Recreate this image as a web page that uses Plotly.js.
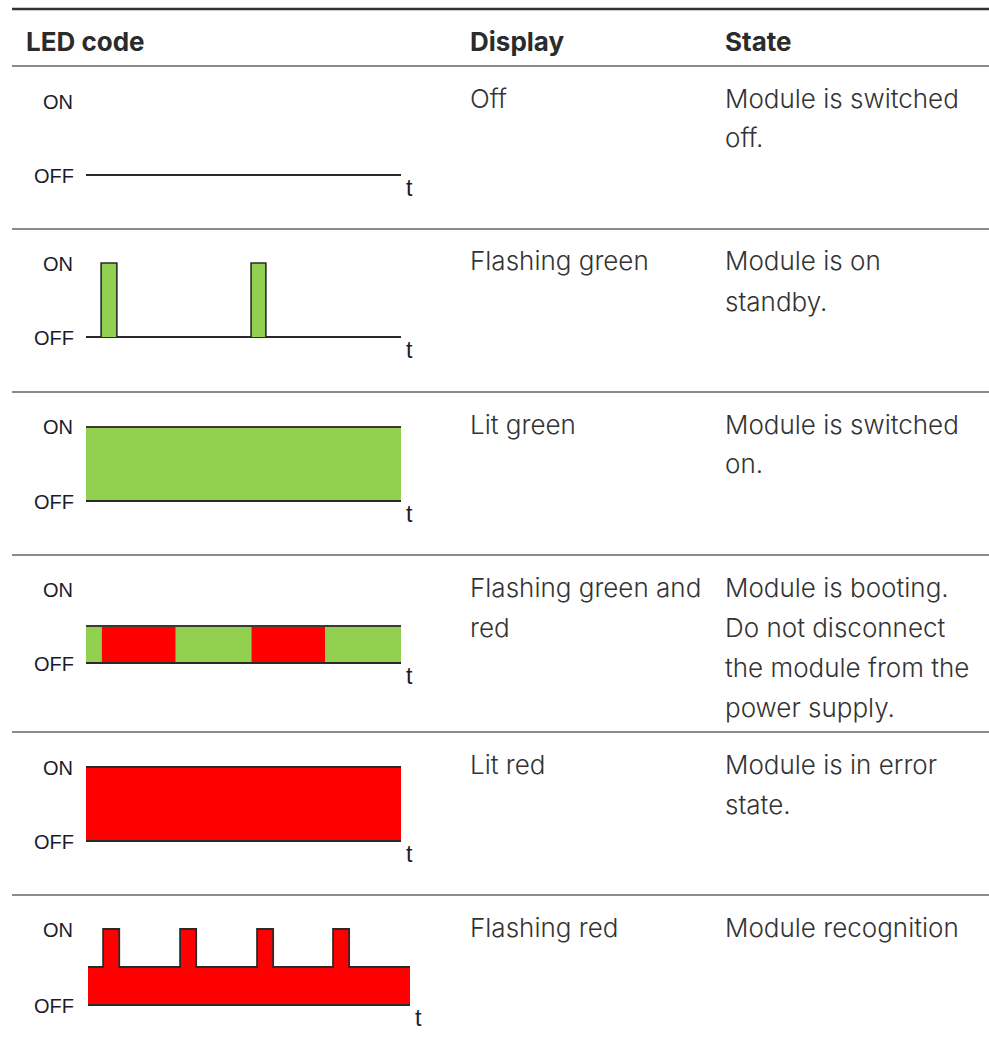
<!DOCTYPE html>
<html>
<head>
<meta charset="utf-8">
<script src="https://cdn.plot.ly/plotly-3.0.1.min.js"></script>
<style>html,body{margin:0;padding:0;background:#fff;}#chart{width:989px;height:1054px;}</style>
</head>
<body>
<div id="chart"></div>
<script>
// ---------- DATA ----------
const headers = ["LED code", "Display", "State"];
const displayText = [["Off"], ["Flashing green"], ["Lit green"], ["Flashing green and", "red"], ["Lit red"], ["Flashing red"]];
const stateText = [
  ["Module is switched", "off."],
  ["Module is on", "standby."],
  ["Module is switched", "on."],
  ["Module is booting.", "Do not disconnect", "the module from the", "power supply."],
  ["Module is in error", "state."],
  ["Module recognition"]
];
const levelLabels = ["OFF", "ON"];
const timeLabel = "t";

// signal time points (t) and levels (0 = OFF, 1 = ON)
const offT = [0, 10];
const offV = [0, 0];
const flashGreenT = [0, 0.48, 0.98, 5.24, 5.71, 10];
const flashGreenV = [0, 1, 0, 1, 0, 0];
const litGreenT = [0, 10];
const litGreenV = [1, 1];
const bootT = [0, 0.5, 2.85, 5.25, 7.6, 10];
const bootColors = ["green", "red", "green", "red", "green"];
const bootLevel = 0.5;
const litRedT = [0, 10];
const litRedV = [1, 1];
const flashRedT = [0, 0.47, 0.97, 2.86, 3.36, 5.25, 5.75, 7.61, 8.11, 10];
const flashRedV = [0.5, 1, 0.5, 1, 0.5, 1, 0.5, 1, 0.5, 0.5];

// ---------- STYLE / GEOMETRY ----------
const W = 989, H = 1054;
const COL = {green: "#92d050", red: "#ff0000"};
const OUT = "#2a2a2a";
const textColor = "#333333";
const labelColor = "#1b1b2b";
const FONT = "Inter, 'Noto Sans', sans-serif";
const rules = [66, 229, 392, 555, 732, 895];
const rowTop = [66, 229, 392, 555, 732, 895];
const geom = [
  {on: 101, off: 175, x0: 86, x1: 401},
  {on: 263, off: 337, x0: 86, x1: 401},
  {on: 427, off: 501, x0: 86, x1: 401},
  {on: 589, off: 663, x0: 86, x1: 401},
  {on: 767, off: 841, x0: 86, x1: 401},
  {on: 929, off: 1005, x0: 88, x1: 410}
];
const XR = [-0.3, 10.3], YR = [-0.15, 1.15];

function xDomain(g) {
  const k = (g.x1 - g.x0) / 10;
  return [(g.x0 + XR[0] * k) / W, (g.x0 + XR[1] * k) / W];
}
function yDomain(g) {
  const k = (g.on - g.off);
  const pLow = g.off + YR[0] * k, pHigh = g.off + YR[1] * k;
  return [1 - pLow / H, 1 - pHigh / H];
}

const traces = [];
const layout = {
  width: W, height: H,
  margin: {l: 0, r: 0, t: 0, b: 0},
  paper_bgcolor: "#ffffff", plot_bgcolor: "rgba(0,0,0,0)",
  showlegend: false,
  shapes: [], annotations: []
};

function ax(i) { return i === 0 ? "" : String(i + 1); }

geom.forEach((g, i) => {
  const a = ax(i);
  layout["xaxis" + a] = {domain: xDomain(g), range: XR, visible: false, fixedrange: true, anchor: "y" + a};
  layout["yaxis" + a] = {domain: yDomain(g), range: YR, visible: false, fixedrange: true, anchor: "x" + a};
});

function tr(i, o) {
  const a = ax(i);
  return Object.assign({type: "scatter", xaxis: "x" + a, yaxis: "y" + a, hoverinfo: "skip"}, o);
}
const baseLine = (i, T) => tr(i, {x: [T[0], T[T.length - 1]], y: [0, 0], mode: "lines", line: {color: OUT, width: 2}});

// Row 1: Off
traces.push(tr(0, {x: offT, y: offV, mode: "lines", line: {color: OUT, width: 2}}));
// Row 2: Flashing green
traces.push(baseLine(1, flashGreenT));
traces.push(tr(1, {x: flashGreenT, y: flashGreenV, mode: "lines", line: {color: OUT, width: 1.6, shape: "hv"}, fill: "tozeroy", fillcolor: COL.green}));
// Row 3: Lit green
traces.push(tr(2, {x: litGreenT, y: litGreenV, mode: "lines", line: {color: "#3a3a30", width: 2}, fill: "tozeroy", fillcolor: COL.green}));
traces.push(baseLine(2, litGreenT));
// Row 4: Flashing green and red
for (let s = 0; s < bootColors.length; s++) {
  traces.push(tr(3, {x: [bootT[s], bootT[s + 1]], y: [bootLevel, bootLevel], mode: "none", fill: "tozeroy", fillcolor: COL[bootColors[s]]}));
}
traces.push(tr(3, {x: [bootT[0], bootT[bootT.length - 1]], y: [bootLevel, bootLevel], mode: "lines", line: {color: "#3a3a30", width: 2}}));
traces.push(baseLine(3, bootT));
// Row 5: Lit red
traces.push(tr(4, {x: litRedT, y: litRedV, mode: "lines", line: {color: OUT, width: 2}, fill: "tozeroy", fillcolor: COL.red}));
traces.push(baseLine(4, litRedT));
// Row 6: Flashing red
traces.push(tr(5, {x: flashRedT, y: flashRedV, mode: "lines", line: {color: OUT, width: 1.8, shape: "hv"}, fill: "tozeroy", fillcolor: COL.red}));
traces.push(baseLine(5, flashRedT));

// ON / OFF / t labels
geom.forEach((g, i) => {
  const a = ax(i);
  const lf = {family: "'Liberation Sans', Arial, sans-serif", size: 20, color: labelColor};
  const tf = {family: "'Liberation Sans', Arial, sans-serif", size: 23, color: labelColor};
  layout.annotations.push({xref: "paper", yref: "paper", x: 75.5 / W, y: 1 - (g.off + 0.5) / H, text: levelLabels[0], showarrow: false, xanchor: "right", yanchor: "middle", font: lf});
  layout.annotations.push({xref: "paper", yref: "paper", x: 74.5 / W, y: 1 - (g.on + 0.5) / H, text: levelLabels[1], showarrow: false, xanchor: "right", yanchor: "middle", font: lf});
  layout.annotations.push({xref: "x" + a, yref: "y" + a, x: 10, y: 0, text: timeLabel, showarrow: false, xanchor: "left", yanchor: "middle", xshift: 3, yshift: -13, font: tf});
});

// table rules
layout.shapes.push({type: "line", xref: "paper", yref: "paper", x0: 12 / W, x1: 1, y0: 1 - 9 / H, y1: 1 - 9 / H, line: {color: "#333", width: 2.5}});
rules.forEach(r => layout.shapes.push({type: "line", xref: "paper", yref: "paper", x0: 12 / W, x1: 1, y0: 1 - r / H, y1: 1 - r / H, line: {color: "#666", width: 1.6}}));

// header text
const colX = [24, 468, 723];
headers.forEach((h, c) => layout.annotations.push({xref: "paper", yref: "paper", x: colX[c] / W, y: 1 - 41 / H, text: "<b>" + h + "</b>", showarrow: false, xanchor: "left", yanchor: "middle", font: {family: FONT, size: 26, color: "#2b2b2b"}}));

// body text
const LS = 40;
const bodyFont = {family: FONT, size: 26, color: textColor, weight: 300};
rowTop.forEach((rt, i) => {
  const y0 = rt + 32;
  displayText[i].forEach((line, k) => layout.annotations.push({xref: "paper", yref: "paper", x: colX[1] / W, y: 1 - (y0 + k * LS) / H, text: line, showarrow: false, xanchor: "left", yanchor: "middle", font: bodyFont}));
  stateText[i].forEach((line, k) => layout.annotations.push({xref: "paper", yref: "paper", x: colX[2] / W, y: 1 - (y0 + k * LS) / H, text: line, showarrow: false, xanchor: "left", yanchor: "middle", font: bodyFont}));
});

Plotly.newPlot("chart", traces, layout, {displayModeBar: false, staticPlot: true});
</script>
</body>
</html>
